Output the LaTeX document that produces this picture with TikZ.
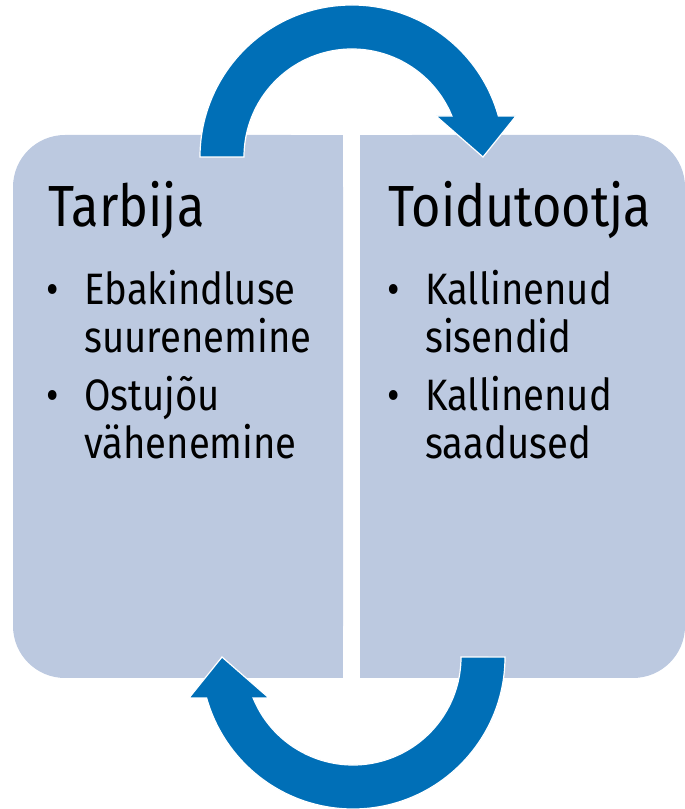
\documentclass[tikz,border=0pt]{standalone}
\usepackage{fontspec}
\setmainfont{Fira Sans}[FakeStretch=0.87]
\usetikzlibrary{positioning}

\definecolor{panelblue}{RGB}{188,201,224}
\definecolor{arrowblue}{RGB}{0,111,183}

\tikzset{
  panel/.style={fill=panelblue, rounded corners=52pt, inner sep=0pt, minimum height=543pt},
  heading/.style={anchor=base west, inner sep=0pt, font=\fontsize{58}{60}\selectfont},
  entry/.style={anchor=base west, inner sep=0pt, align=left, font=\fontsize{44}{48}\selectfont},
  dot/.style={anchor=base, inner sep=0pt, font=\fontsize{44}{48}\selectfont},
  looparrow/.pic={
    \filldraw[arrowblue, draw=white, line width=1.2pt]
      (200,652) arc[start angle=180, end angle=15.64, radius=152]
      -- (516,693) -- (483,652) -- (436,693) -- (451.9,693)
      arc[start angle=22.31, end angle=180, radius=108] -- cycle;
  }
}

\begin{document}
\begin{tikzpicture}[x=1pt, y=1pt]
\useasboundingbox (0,0) rectangle (685,809);

% panels
\node (leftpanel) [panel, minimum width=330pt] at (178,402.5) {};
\fill[panelblue] (leftpanel.north) rectangle (leftpanel.south east);
\node (rightpanel) [panel, minimum width=325pt] at (522.5,402.5) {};
\fill[panelblue] (rightpanel.north west) rectangle (rightpanel.south);

% arrows
\pic at (0,0) {looparrow};
\pic[rotate=180] at (705,804) {looparrow};

% left text (base = last line)
\node (tarbija) [heading] at (48,582) {Tarbija};
\node (ebakindlus) [entry] at (84,456) {Ebakindluse\\suurenemine};
\node (ostujoud) [entry] at (84,350) {Ostujõu\\vähenemine};
\node [dot] at (53,504) {•};
\node [dot] at (53,398) {•};

% right text
\node (toidutootja) [heading] at (388,582) {Toidutootja};
\node (sisendid) [entry] at (425,456) {Kallinenud\\sisendid};
\node (saadused) [entry] at (425,350) {Kallinenud\\saadused};
\node [dot] at (394,504) {•};
\node [dot] at (394,398) {•};
\end{tikzpicture}
\end{document}
